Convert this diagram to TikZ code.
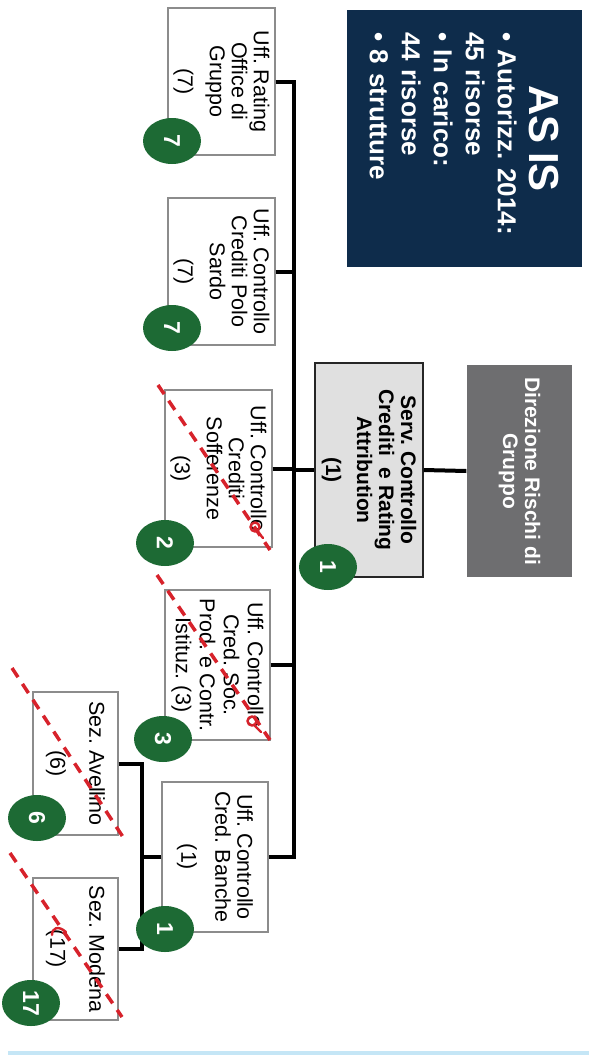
\documentclass[tikz,border=0pt]{standalone}
\usepackage{fontspec}
\setmainfont{Liberation Sans}
\usepackage{xcolor}
\usepackage{tikz}
\usetikzlibrary{shapes.geometric}
\frenchspacing

\definecolor{navy}{HTML}{0E2C4B}
\definecolor{riskgray}{HTML}{6E6E70}
\definecolor{servgray}{HTML}{E0E0E0}
\definecolor{boxline}{HTML}{8C8C8C}
\definecolor{badgegreen}{HTML}{1D6A34}
\definecolor{markred}{HTML}{D7222B}
\definecolor{baseblue}{HTML}{C5E6F6}

\begin{document}
\begin{tikzpicture}[x=1pt,y=-1pt,
    block/.style={rectangle,draw=boxline,line width=1.2pt,fill=white,rotate=-90,align=center,
      inner sep=0pt,font=\fontsize{21.5}{22}\selectfont,minimum width=150pt,minimum height=106pt},
    head/.style={block,draw=black!85,line width=1.5pt,fill=servgray,font=\bfseries\fontsize{21}{22}\selectfont,
      minimum width=214pt,minimum height=108pt},
    badge/.style={ellipse,fill=badgegreen,text=white,rotate=-90,inner sep=0pt,
      minimum width=46pt,minimum height=58pt,font=\bfseries\fontsize{23}{23}\selectfont},
    conn/.style={line width=4pt},
    cross_out/.style={markred,line width=3.5pt,dash pattern=on 11pt off 8pt},
    scribble/.style={markred,line width=2.4pt,line cap=round}]

  \useasboundingbox (0,0) rectangle (589,1055);

  % summary box
  \node[rectangle,fill=navy,rotate=-90,minimum width=257pt,minimum height=235pt,text width=213pt,
    inner xsep=22pt,inner ysep=0pt,align=left,text=white,font=\bfseries\fontsize{26}{32}\selectfont]
    (as_is) at (464.5,138.5) {%
      {\centering\fontsize{42}{46}\selectfont AS IS\par}
      \hangindent=18pt\makebox[18pt][l]{\textbullet}Autorizz. 2014:\\45 risorse\par
      \hangindent=18pt\makebox[18pt][l]{\textbullet}In carico:\\44 risorse\par
      \hangindent=18pt\makebox[18pt][l]{\textbullet}8 strutture\par};

  \node[block,draw=none,fill=riskgray,text=white,font=\bfseries\fontsize{21}{22}\selectfont,
    minimum width=212pt,minimum height=105pt] (dir_rischi) at (519.5,471) {Direzione Rischi di\\Gruppo};
  \node[head] (serv_ctrl) at (369,470) {Serv. Controllo\\Crediti~~e Rating\\Attribution\\[9pt](1)};

  \node[block,minimum width=147pt,minimum height=107pt] (uff_rating) at (221.5,81.5) {Uff. Rating\\Office di\\Gruppo\\[10pt](7)};
  \node[block,minimum width=147pt,minimum height=107pt] (uff_sardo) at (221.5,271.5) {Uff. Controllo\\Crediti Polo\\Sardo\\[10pt](7)};
  \node[block,minimum width=157pt,minimum height=107pt] (uff_soff) at (218.5,468.5) {Uff. Controllo\\Crediti\\Sofferenze\\[10pt](3)};
  \node[block,minimum width=150pt,minimum height=105pt] (uff_soc) at (217.5,665) {Uff. Controllo\\[2pt]Cred. Soc.\\[2pt]Prod. e Contr.\\[2pt]Istituz. (3)};
  \node[block] (uff_banche) at (215,857) {Uff. Controllo\\Cred. Banche\\[12pt](1)};
  \node[block,minimum width=143pt,minimum height=85pt] (sez_avellino) at (75.5,763.5) {Sez. Avellino\\[17pt](6)};
  \node[block,minimum width=142pt,minimum height=85pt] (sez_modena) at (75.5,949) {Sez. Modena\\[17pt](17)};

  \coordinate (trunk) at (294,0);
  \coordinate (sub_trunk) at (142,0);

  \draw[conn] (dir_rischi.south) -- (serv_ctrl.north);
  \draw[conn] (serv_ctrl.south) -- (serv_ctrl.south -| trunk);
  \draw[conn] (uff_rating.north) -| (uff_banche.north -| trunk) -- (uff_banche.north);
  \draw[conn] (uff_sardo.north) -- (uff_sardo.north -| trunk);
  \draw[conn] (uff_soff.north) -- (uff_soff.north -| trunk);
  \draw[conn] (uff_soc.north) -- (uff_soc.north -| trunk);
  \draw[conn] (uff_banche.south) -- (uff_banche.south -| sub_trunk);
  \draw[conn] (sez_avellino.north) -| (sez_modena.north -| sub_trunk) -- (sez_modena.north);

  % resources per unit
  \node[badge] (n_serv) at (328,567) {1};
  \node[badge] (n_rating) at (172,141) {7};
  \node[badge] (n_sardo) at (172,328) {7};
  \node[badge] (n_soff) at (165,543) {2};
  \node[badge] (n_soc) at (163,739) {3};
  \node[badge] (n_banche) at (165,929) {1};
  \node[badge] (n_avellino) at (37,818) {6};
  \node[badge] (n_modena) at (31,1003) {17};

  % crossed out units
  \draw[cross_out] (158,385) -- (270,550);
  \draw[cross_out] (157,575) -- (270,740);
  \draw[cross_out] (12,668) -- (123,837);
  \draw[cross_out] (10,853) -- (122,1017);
  \draw[scribble] (255,527) circle (4.5) (257,531) -- (263,538);
  \draw[scribble] (252,721) circle (4.5) (254,725) -- (261,732);
  \draw[scribble] (52,935) .. controls (52,928) and (58,925) .. (66,932);

  \fill[baseblue] (8,1051) rectangle (589,1055);
\end{tikzpicture}
\end{document}
